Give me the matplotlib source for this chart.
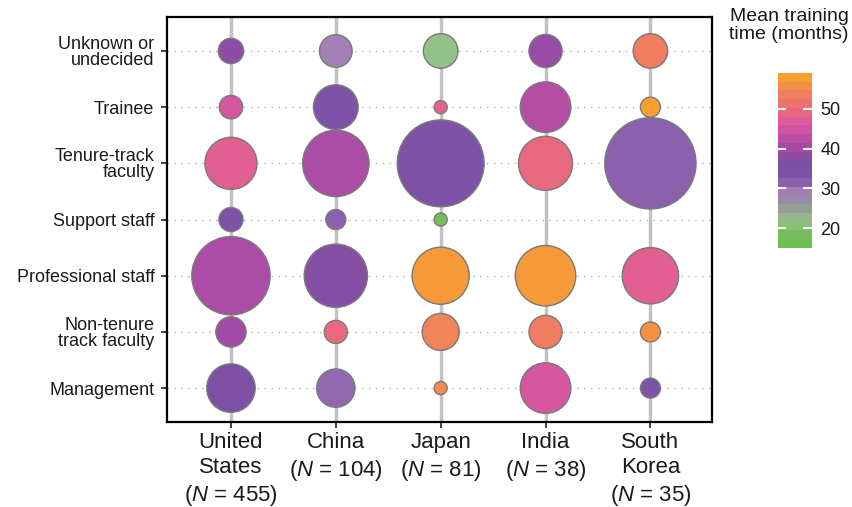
import numpy as np
import matplotlib
matplotlib.use("Agg")
import matplotlib.pyplot as plt
from matplotlib.colors import LinearSegmentedColormap, Normalize
from matplotlib.cm import ScalarMappable

plt.rcParams['font.family'] = ['Liberation Sans', 'DejaVu Sans']
plt.rcParams['mathtext.fontset'] = 'custom'
plt.rcParams['mathtext.rm'] = 'Liberation Sans'
plt.rcParams['mathtext.it'] = 'Liberation Sans:italic'

# Data
roles = ["Unknown or\nundecided", "Trainee", "Tenure-track\nfaculty", "Support staff",
         "Professional staff", "Non-tenure\ntrack faculty", "Management"]
countries = ["United\nStates", "China", "Japan", "India", "South\nKorea"]
n_total = [455, 104, 81, 38, 35]

# respondents per role (same order as roles)
us_counts = [21, 18, 89, 19, 201, 30, 77]
china_counts = [8, 15, 33, 3, 30, 4, 11]
japan_counts = [7, 1, 44, 1, 19, 8, 1]
india_counts = [3, 7, 8, 0, 10, 3, 7]
korea_counts = [3, 1, 21, 0, 8, 1, 1]

# mean training time in months
us_time = [38, 46, 48, 33, 41, 40, 35]
china_time = [28.5, 33, 41, 31, 37, 50, 30.5]
japan_time = [21, 49, 33, 17, 58, 55, 56]
india_time = [39, 42, 50, np.nan, 58, 54, 46]
korea_time = [54, 59, 31, np.nan, 48, 57, 34]

all_counts = [us_counts, china_counts, japan_counts, india_counts, korea_counts]
all_times = [us_time, china_time, japan_time, india_time, korea_time]

# Colour scale
VMIN, VMAX = 15, 59
anchors = [(15, '#6dbf55'), (18, '#76bd5c'), (21, '#95c18a'), (24, '#95a092'),
           (26.5, '#9a8aa8'), (29, '#a47cb8'), (32, '#7f55a8'), (36, '#7c4ea4'),
           (40, '#a04ba6'), (44, '#c84fa8'), (47, '#dd5a9c'), (50, '#e8687e'),
           (54, '#f07c62'), (59, '#f7a030')]
cmap = LinearSegmentedColormap.from_list(
    'training', [((v - VMIN) / (VMAX - VMIN), c) for v, c in anchors])
norm = Normalize(VMIN, VMAX)

SIZE_SCALE = 72  # marker area (pt^2) per percent

fig = plt.figure(figsize=(8.52, 5.07), dpi=100)
ax = fig.add_axes([0.196, 0.168, 0.640, 0.798])

ypos = np.arange(len(roles))[::-1]
xpos = np.arange(len(countries))

ax.set_xlim(-0.61, 4.59)
ax.set_ylim(-0.6, 6.6)

ax.vlines(xpos, -0.6, 6.6, color='#c2c2c2', lw=2.5, zorder=1)
ax.hlines(ypos, -0.61, 4.59, color='#b0b0b0', lw=1, linestyles=(0, (1, 4)), zorder=0)

for i, (counts, times) in enumerate(zip(all_counts, all_times)):
    counts = np.array(counts, dtype=float)
    times = np.array(times, dtype=float)
    pct = counts / n_total[i] * 100
    keep = counts > 0
    ax.scatter(np.full(keep.sum(), xpos[i]), ypos[keep], s=pct[keep] * SIZE_SCALE,
               c=times[keep], cmap=cmap, norm=norm, edgecolors='#7a7a7a',
               linewidths=1, zorder=3)

xlabels = [f"{c}\n($\\mathit{{N}}$ = {n})" for c, n in zip(countries, n_total)]
ax.set_xticks(xpos)
ax.set_xticklabels(xlabels, fontsize=16, linespacing=1.28, va='top', color='#1a1a1a')
ax.set_yticks(ypos)
ax.set_yticklabels(roles, fontsize=13, linespacing=0.9, color='#1a1a1a')
ax.tick_params(axis='both', length=4, width=1.2, color='#222222')
ax.tick_params(axis='y', pad=5)
ax.tick_params(axis='x', pad=3)
for s in ax.spines.values():
    s.set_linewidth(1.6)

# Colour bar
cax = fig.add_axes([0.913, 0.511, 0.040, 0.345])
sm = ScalarMappable(norm=norm, cmap=cmap.resampled(20))
cb = fig.colorbar(sm, cax=cax, ticks=[20, 30, 40, 50])
cb.outline.set_visible(False)
cax.tick_params(length=0, labelsize=13, pad=6, labelcolor='#1a1a1a')
for t in [20, 30, 40, 50]:
    cax.plot([0, 0.22], [t, t], color='white', lw=1.5, transform=cax.get_yaxis_transform())
    cax.plot([0.78, 1], [t, t], color='white', lw=1.5, transform=cax.get_yaxis_transform())
fig.text(0.926, 0.985, "Mean training\ntime (months)", ha='center', va='top',
         fontsize=14, linespacing=1.1, color='#1a1a1a')

fig.savefig("out.png", dpi=100)
